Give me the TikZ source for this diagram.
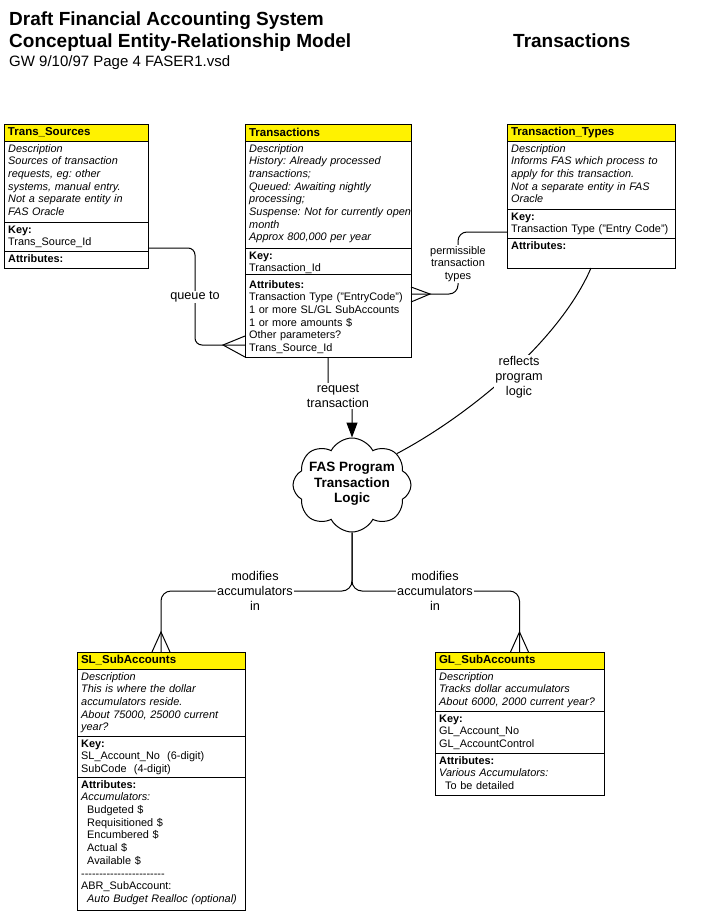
\documentclass[tikz,border=0pt]{standalone}
\usepackage{fontspec}
\setmainfont{Liberation Sans}
\usetikzlibrary{calc,arrows.meta,shapes.symbols}
\frenchspacing
\newcommand{\mybody}{\fontsize{10.9}{12.7}\selectfont\frenchspacing}
\newcommand{\myhdr}{\fontsize{11.5}{13}\selectfont\bfseries}
\newcommand{\mylab}{\fontsize{12.7}{15.2}\selectfont}
\newcommand{\mysmall}{\fontsize{11}{12.5}\selectfont}
\newcommand{\mycloud}{\fontsize{13.5}{15.5}\selectfont\bfseries}
\newcommand{\mytitle}{\fontsize{19}{22}\selectfont\bfseries}
\newcommand{\mysub}{\fontsize{15}{18}\selectfont}
\begin{document}
\begin{tikzpicture}[x=1pt,y=-1pt,
  hdr/.style={draw, fill=yellow, line width=1pt, outer sep=0pt, anchor=north west,
    minimum height=17pt, inner xsep=4pt, inner ysep=0pt, align=left, font=\myhdr, text width=#1},
  sec/.style={draw, line width=1pt, outer sep=0pt, anchor=north west, inner sep=0pt},
  txt/.style={anchor=north west, inner xsep=4pt, inner ysep=2pt, align=left, font=\mybody, text width=#1},
  conn/.style={line width=1pt, rounded corners=7pt},
  crow/.style={line width=1pt},
  lab/.style={fill=white, inner sep=1pt, align=center, font=\mylab},
  ttl/.style={anchor=base west, inner sep=0pt, font=\mytitle}]
\useasboundingbox (0,0) rectangle (727,913);
\fill[white] (0,0) rectangle (727,913);

% titles
\node[ttl] (t1) at (9,25) {Draft Financial Accounting System};
\node[ttl] (t2) at (9,47) {Conceptual Entity-Relationship Model};
\node[ttl, font=\mysub] (t3) at (9,66) {GW 9/10/97 Page 4 FASER1.vsd};
\node[ttl] (t4) at (513,47) {Transactions};

% Trans_Sources
\node[hdr=136pt] (tsh) at (4,124) {Trans\_Sources};
\node[sec, minimum width=144pt, minimum height=81pt] (tsd) at (tsh.south west) {};
\node[sec, minimum width=144pt, minimum height=29pt] (tsk) at (tsd.south west) {};
\node[sec, minimum width=144pt, minimum height=17pt] (tsa) at (tsk.south west) {};
\node[txt=150pt] (tsdt) at (tsd.north west) {\itshape\strut Description\\Sources of transaction\\requests, eg: other\\systems, manual entry.\\Not a separate entity in\\FAS Oracle};
\node[txt=150pt] (tskt) at (tsk.north west) {\strut\textbf{Key:}\\Trans\_Source\_Id};
\node[txt=150pt] (tsat) at (tsa.north west) {\strut\textbf{Attributes:}};

% Transactions
\node[hdr=158pt] (trh) at (245,124) {Transactions};
\node[sec, minimum width=166pt, minimum height=107pt] (trd) at (trh.south west) {};
\node[sec, minimum width=166pt, minimum height=26pt] (trk) at (trd.south west) {};
\node[sec, minimum width=166pt, minimum height=83pt] (tra) at (trk.south west) {};
\node[txt=175pt] (trdt) at (trd.north west) {\itshape\strut Description\\History: Already processed\\transactions;\\Queued: Awaiting nightly\\processing;\\Suspense: Not for currently open\\month\\Approx 800,000 per year};
\node[txt=175pt] (trkt) at (trk.north west) {\strut\textbf{Key:}\\Transaction\_Id};
\node[txt=175pt] (trat) at ($(tra.north west)+(0,3)$) {\strut\textbf{Attributes:}\\Transaction Type ("EntryCode")\\1 or more SL/GL SubAccounts\\1 or more amounts \$\\Other parameters?\\Trans\_Source\_Id};

% Transaction_Types
\node[hdr=160pt] (tth) at (507,124) {Transaction\_Types};
\node[sec, minimum width=168pt, minimum height=68pt] (ttd) at (tth.south west) {};
\node[sec, minimum width=168pt, minimum height=29pt] (ttk) at (ttd.south west) {};
\node[sec, minimum width=168pt, minimum height=30pt] (tta) at (ttk.south west) {};
\node[txt=175pt] (ttdt) at (ttd.north west) {\itshape\strut Description\\Informs FAS which process to\\apply for this transaction.\\Not a separate entity in FAS\\Oracle};
\node[txt=175pt] (ttkt) at (ttk.north west) {\strut\textbf{Key:}\\Transaction Type ("Entry Code")};
\node[txt=175pt] (ttat) at (tta.north west) {\strut\textbf{Attributes:}};

% SL_SubAccounts
\node[hdr=160pt] (slh) at (77,652) {SL\_SubAccounts};
\node[sec, minimum width=168pt, minimum height=67pt] (sld) at (slh.south west) {};
\node[sec, minimum width=168pt, minimum height=41pt] (slk) at (sld.south west) {};
\node[sec, minimum width=168pt, minimum height=133pt] (sla) at (slk.south west) {};
\node[txt=175pt] (sldt) at (sld.north west) {\itshape\strut Description\\This is where the dollar\\accumulators reside.\\About 75000, 25000 current\\year?};
\node[txt=175pt] (slkt) at (slk.north west) {\strut\textbf{Key:}\\SL\_Account\_No\ \ (6-digit)\\SubCode\ \ (4-digit)};
\node[txt=175pt] (slat) at (sla.north west) {\strut\textbf{Attributes:}\\\textit{Accumulators:}\\\hspace*{6pt}Budgeted \$\\\hspace*{6pt}Requisitioned \$\\\hspace*{6pt}Encumbered \$\\\hspace*{6pt}Actual \$\\\hspace*{6pt}Available \$\\-{}-{}-{}-{}-{}-{}-{}-{}-{}-{}-{}-{}-{}-{}-{}-{}-{}-{}-{}-{}-{}-{}-\\ABR\_SubAccount:\\\hspace*{6pt}\textit{Auto Budget Realloc (optional)}};

% GL_SubAccounts
\node[hdr=161pt] (glh) at (435,652) {GL\_SubAccounts};
\node[sec, minimum width=169pt, minimum height=42pt] (gld) at (glh.south west) {};
\node[sec, minimum width=169pt, minimum height=42pt] (glk) at (gld.south west) {};
\node[sec, minimum width=169pt, minimum height=42pt] (gla) at (glk.south west) {};
\node[txt=175pt] (gldt) at (gld.north west) {\itshape\strut Description\\Tracks dollar accumulators\\About 6000, 2000 current year?};
\node[txt=175pt] (glkt) at (glk.north west) {\strut\textbf{Key:}\\GL\_Account\_No\\GL\_AccountControl};
\node[txt=175pt] (glat) at (gla.north west) {\strut\textbf{Attributes:}\\\textit{Various Accumulators:}\\\hspace*{6pt}To be detailed};

% cloud
\node[cloud, draw, line width=1pt, cloud puffs=8, cloud puff arc=125, cloud ignores aspect,
  minimum width=118pt, minimum height=94pt, inner sep=0pt] (fas) at (352,485) {};
\node[font=\mycloud, align=center, inner sep=0pt] (fast) at (352,484) {FAS Program\\Transaction\\Logic};

% connectors
\draw[conn] ($(tsk.south east)+(0,-3)$) -| ($(tra.south west)+(-50,-12)$) -- ($(tra.south west)+(0,-12)$);
\draw[crow] ($(tra.south west)+(0,-21)$) -- ($(tra.south west)+(-22,-12)$) -- (tra.south west);

\draw[conn, rounded corners=9pt] ($(ttk.south west)+(0,-6)$) -| ($(tra.north east)+(47,20)$) -- ($(tra.north east)+(0,20)$);
\draw[crow] ($(tra.north east)+(0,13)$) -- ($(tra.north east)+(19,20)$) -- ($(tra.north east)+(0,28)$);

\draw[conn, -{Triangle[length=15pt,width=11pt]}] (tra.south) -- ++(0,38) -| (fas.north);

\draw[line width=1pt] (tta.south) .. controls (560,340) and (470,415) .. (fas.35);

\draw[conn, rounded corners=10pt] (fas.south) |- ($(slh.north)+(0,-61)$) -- (slh.north);
\draw[crow] ($(slh.north)+(-9,0)$) -- ($(slh.north)+(0,-20)$) -- ($(slh.north)+(9,0)$);
\draw[conn, rounded corners=10pt] (fas.south) |- ($(glh.north)+(0,-61)$) -- (glh.north);
\draw[crow] ($(glh.north)+(-9,0)$) -- ($(glh.north)+(0,-20)$) -- ($(glh.north)+(9,0)$);

% labels
\node[lab] (queue) at (195,297) {queue to};
\node[lab, font=\mysmall] (perm) at (458,264) {permissible\\transaction\\types};
\node[lab] (req) at (338,396) {request\\transaction};
\node[lab] (refl) at (519,377) {reflects\\program\\logic};
\node[lab] (modl) at (255,591) {modifies\\accumulators\\in};
\node[lab] (modr) at (435,591) {modifies\\accumulators\\in};
\end{tikzpicture}
\end{document}
